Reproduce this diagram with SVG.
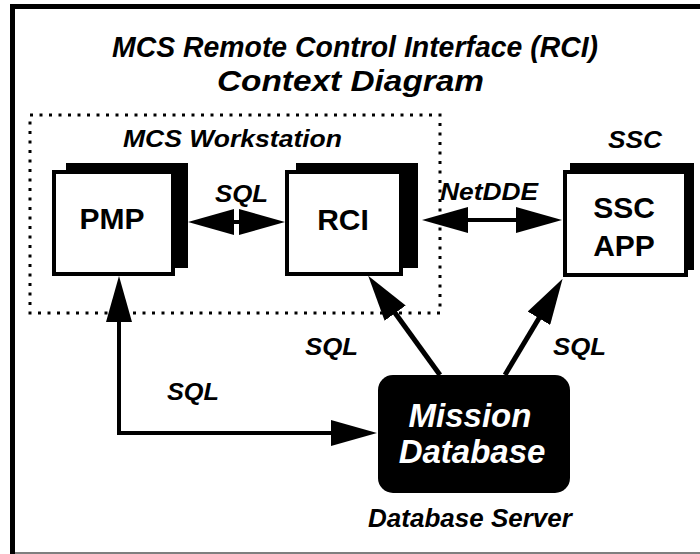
<svg xmlns="http://www.w3.org/2000/svg" width="700" height="554" viewBox="0 0 700 554">
<style>
.t{font-family:"Liberation Sans",Arial,sans-serif;font-weight:bold;font-style:italic;fill:#000}
.n{font-family:"Liberation Sans",Arial,sans-serif;font-weight:bold;font-size:30px;fill:#000;text-anchor:middle}
.back{fill:#000}
.front{fill:#fff;stroke:#000;stroke-width:4}
.c{fill:none;stroke:#000}
</style>
<defs>
<marker id="ah" viewBox="0 0 46 26" refX="2" refY="13" markerWidth="46" markerHeight="26" markerUnits="userSpaceOnUse" orient="auto-start-reverse">
<path d="M0,0 L46,13 L0,26 z" fill="#000"/>
</marker>
</defs>
<rect width="700" height="554" fill="#fff"/>
<path d="M12.5,554 V6.5 H700" fill="none" stroke="#000" stroke-width="5"/>
<line x1="15" y1="553" x2="700" y2="553" stroke="#555" stroke-width="1.5"/>

<g id="title">
<text class="t" x="112" y="57" font-size="30" textLength="486" lengthAdjust="spacingAndGlyphs">MCS Remote Control Interface (RCI)</text>
<text class="t" x="217" y="91" font-size="30" textLength="267" lengthAdjust="spacingAndGlyphs">Context Diagram</text>
</g>

<g id="workstation">
<rect x="30" y="115" width="410" height="198" fill="none" stroke="#000" stroke-width="3" stroke-dasharray="3 6.5"/>
<text class="t" x="123" y="147" font-size="23" textLength="219" lengthAdjust="spacingAndGlyphs">MCS Workstation</text>
</g>

<g id="pmp">
<rect class="back" x="66" y="163" width="122" height="105"/>
<rect class="front" x="54" y="172" width="119" height="102"/>
<text class="n" x="112" y="229">PMP</text>
</g>

<g id="rci">
<rect class="back" x="296" y="163" width="122" height="105"/>
<rect class="front" x="287" y="172" width="114" height="102"/>
<text class="n" x="343" y="230">RCI</text>
</g>

<g id="ssc">
<text class="t" x="608" y="148" font-size="23" textLength="54" lengthAdjust="spacingAndGlyphs">SSC</text>
<rect class="back" x="570" y="163" width="124" height="107"/>
<rect class="front" x="565" y="172" width="121" height="103"/>
<text class="n" x="624" y="218">SSC</text>
<text class="n" x="624" y="256">APP</text>
</g>

<g id="missiondb">
<rect x="378" y="375" width="192" height="118" rx="15" ry="15" fill="#000"/>
<text class="t" x="470" y="427" font-size="33" text-anchor="middle" style="fill:#fff">Mission</text>
<text class="t" x="472" y="463" font-size="33" text-anchor="middle" style="fill:#fff">Database</text>
<text class="t" x="470" y="527" font-size="26" text-anchor="middle">Database Server</text>
</g>

<g id="connectors">
<path class="c" d="M232,222 H241" stroke-width="4" marker-start="url(#ah)" marker-end="url(#ah)"/>
<path class="c" d="M466,220 H518" stroke-width="4" marker-start="url(#ah)" marker-end="url(#ah)"/>
<path class="c" d="M333,433 H119 V320" stroke-width="4" marker-start="url(#ah)" marker-end="url(#ah)"/>
<path class="c" d="M440,375 L394,311.5" stroke-width="5" marker-end="url(#ah)"/>
<path class="c" d="M505,375 L540,316.5" stroke-width="5" marker-end="url(#ah)"/>
</g>

<g id="labels">
<text class="t" x="215" y="202" font-size="23" textLength="53" lengthAdjust="spacingAndGlyphs">SQL</text>
<text class="t" x="440" y="200" font-size="23" textLength="98" lengthAdjust="spacingAndGlyphs">NetDDE</text>
<text class="t" x="305" y="355" font-size="23" textLength="53" lengthAdjust="spacingAndGlyphs">SQL</text>
<text class="t" x="167" y="400" font-size="23" textLength="52" lengthAdjust="spacingAndGlyphs">SQL</text>
<text class="t" x="553" y="355" font-size="23" textLength="53" lengthAdjust="spacingAndGlyphs">SQL</text>
</g>
</svg>
